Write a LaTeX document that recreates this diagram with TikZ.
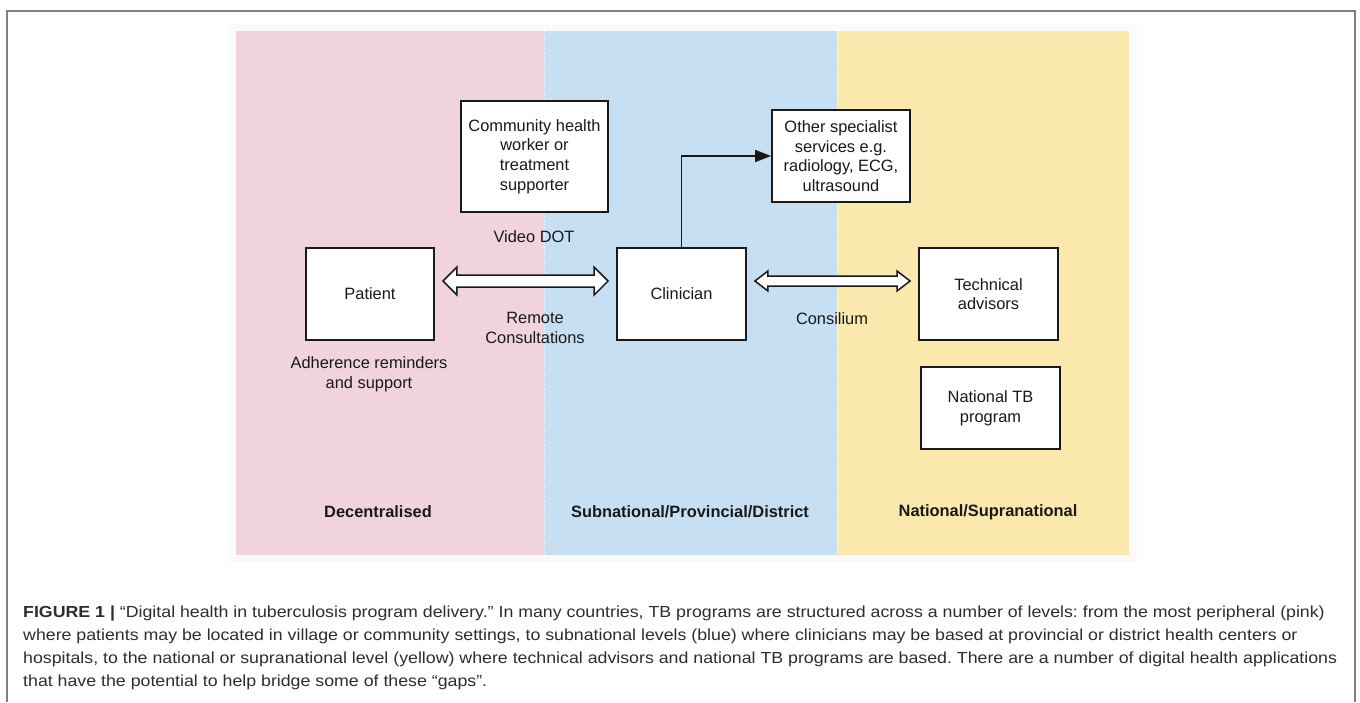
\documentclass[tikz,border=0pt]{standalone}
\usepackage{fontspec}
\setmainfont{Liberation Sans}
\newfontfamily\capfont[FakeStretch=1.11]{Liberation Sans}
\usepackage{xcolor}
\usetikzlibrary{arrows.meta, positioning, calc}
\frenchspacing

\definecolor{peripink}{RGB}{240,211,221}
\definecolor{subblue}{RGB}{199,223,243}
\definecolor{natyellow}{RGB}{250,232,173}
\definecolor{framegray}{RGB}{128,128,128}
\definecolor{captext}{RGB}{45,45,45}

\newcommand{\diagfont}{\fontsize{16.4pt}{19.7pt}\selectfont}
\newcommand{\captionfont}{\capfont\fontsize{16pt}{23pt}\selectfont}

% hollow double block arrow between two tip coordinates
% #1,#2 tips, #3 head length, #4 half head, #5 half shaft
\newcommand{\dblarrow}[5]{%
  \draw[hollowarrow] (#1) -- ++(#3,-#4) -- ++(0,{#4-#5}) -- ($(#2)+(-#3,-#5)$)
    -- ++(0,{-(#4-#5)}) -- (#2) -- ++(-#3,#4) -- ++(0,{-(#4-#5)})
    -- ($(#1)+(#3,#5)$) -- ++(0,{#4-#5}) -- cycle;}

\begin{document}
\begin{tikzpicture}[
    x=1pt, y=-1pt,
    box/.style={draw=black!90, line width=1.9pt, fill=white, align=center,
        inner sep=0pt, font=\diagfont, text=black!90},
    lbl/.style={align=center, font=\diagfont, text=black!90},
    tier/.style={font=\diagfont\bfseries, text=black!90},
    capline/.style={anchor=base west, inner sep=0pt, font=\captionfont, text=captext},
    hollowarrow/.style={draw=black!90, line width=1.5pt, fill=white, line join=miter},
    conn/.style={draw=black!90, line width=1.8pt, -{Triangle[length=16pt, width=12pt]}},
    >=Stealth
]
\useasboundingbox (0,0) rectangle (1360,702);

% --- outer frame ---
\draw[framegray, line width=1.5pt] (7,702) -- (7,11) -- (1355,11) -- (1355,702);

% --- three levels ---
\fill[black!2] (228,24) rectangle (1137,562);
\fill[peripink] (236,31) rectangle (544,555);
\fill[subblue] (544,31) rectangle (837,555);
\fill[natyellow] (837,31) rectangle (1129,555);
\draw[white, dotted, line width=0.8pt] (544,31) -- (544,555);
\draw[white, dotted, line width=0.8pt] (837,31) -- (837,555);

\node[tier] (decent) at (378,512) {Decentralised};
\node[tier] (subnat) at (690,512) {Subnational/Provincial/District};
\node[tier] (natl) at (988,512) {National/Supranational};

% --- boxes ---
\node[box, minimum width=147pt, minimum height=111pt] (chw) at (534.5,156.5)
    {Community health\\worker or\\treatment\\supporter};
\node[box, minimum width=128pt, minimum height=92pt] (patient) at (370,294) {Patient};
\node[box, minimum width=129pt, minimum height=92pt] (clin) at (681.5,294) {Clinician};
\node[box, minimum width=138pt, minimum height=92pt] (other) at (841,156)
    {Other specialist\\services e.g.\\radiology, ECG,\\ultrasound};
\node[box, minimum width=139pt, minimum height=92pt] (tech) at (988.5,294) {Technical\\advisors};
\node[box, minimum width=139pt, minimum height=82pt] (ntb) at (990.5,408) {National TB\\program};

% --- labels ---
\node[lbl] (vdot) at (534,237) {Video DOT};
\node[lbl] (remote) at (535,328) {Remote\\Consultations};
\node[lbl] (adher) at (369,374) {Adherence reminders\\and support};
\node[lbl] (consil) at (832,319) {Consilium};

% --- connectors ---
\coordinate (pcL) at ($(patient.east)+(8,-13)$);
\coordinate (pcR) at ($(clin.west)+(-8,-13)$);
\dblarrow{pcL}{pcR}{14}{14}{6}
\coordinate (ccL) at ($(clin.east)+(8,-13)$);
\coordinate (ccR) at ($(tech.west)+(-8,-13)$);
\dblarrow{ccL}{ccR}{13}{10}{5}
\draw[conn] (clin.north) |- (other.west);

% --- caption ---
\node[capline] (cap1) at (23,617) {\textbf{FIGURE 1 |} “Digital health in tuberculosis program delivery.” In many countries, TB programs are structured across a number of levels: from the most peripheral (pink)};
\node[capline] (cap2) at (23,640) {where patients may be located in village or community settings, to subnational levels (blue) where clinicians may be based at provincial or district health centers or};
\node[capline] (cap3) at (23,663) {hospitals, to the national or supranational level (yellow) where technical advisors and national TB programs are based. There are a number of digital health applications};
\node[capline] (cap4) at (23,686) {that have the potential to help bridge some of these “gaps”.};

\end{tikzpicture}
\end{document}
